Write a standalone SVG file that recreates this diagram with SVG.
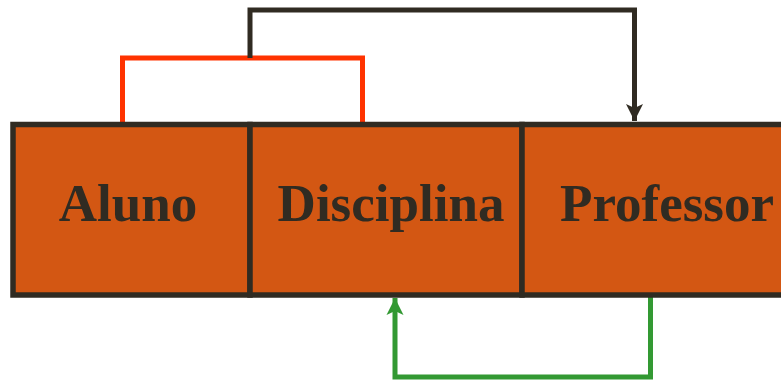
<svg xmlns="http://www.w3.org/2000/svg" width="781" height="380" viewBox="0 0 781 380">
  <style>
    .cell { fill: #d35713; stroke: #302b22; stroke-width: 5.5; }
    .label { font-family: "Liberation Serif", "Times New Roman", serif; font-weight: bold; font-size: 53px; fill: #302b22; text-anchor: middle; }
    .link { fill: none; stroke-width: 5; stroke-linejoin: miter; stroke-linecap: butt; }
  </style>
  <defs>
    <marker id="arrowDark" markerUnits="userSpaceOnUse" markerWidth="18" markerHeight="18" refX="17" refY="9" orient="auto">
      <path d="M0,0.5 L17,9 L0,17.5 L4,9 Z" fill="#302b22"/>
    </marker>
    <marker id="arrowGreen" markerUnits="userSpaceOnUse" markerWidth="18" markerHeight="18" refX="17" refY="9" orient="auto">
      <path d="M0,0.5 L17,9 L0,17.5 L4,9 Z" fill="#339933"/>
    </marker>
  </defs>

  <g id="connectors">
    <path class="link" stroke="#ff3300" d="M122.5,124 V58 H362.5 V124"/>
    <path class="link" stroke="#302b22" d="M250,58 V10 H634.5 V121" marker-end="url(#arrowDark)"/>
    <path class="link" stroke="#339933" d="M650.5,297 V377 H395 V298" marker-end="url(#arrowGreen)"/>
  </g>

  <g id="aluno">
    <rect class="cell" x="13" y="124.5" width="237" height="170.5"/>
    <text class="label" x="128" y="221">Aluno</text>
  </g>
  <g id="disciplina">
    <rect class="cell" x="250" y="124.5" width="272" height="170.5"/>
    <text class="label" x="391" y="221">Disciplina</text>
  </g>
  <g id="professor">
    <rect class="cell" x="522" y="124.5" width="290" height="170.5"/>
    <text class="label" x="667" y="221">Professor</text>
  </g>
</svg>
